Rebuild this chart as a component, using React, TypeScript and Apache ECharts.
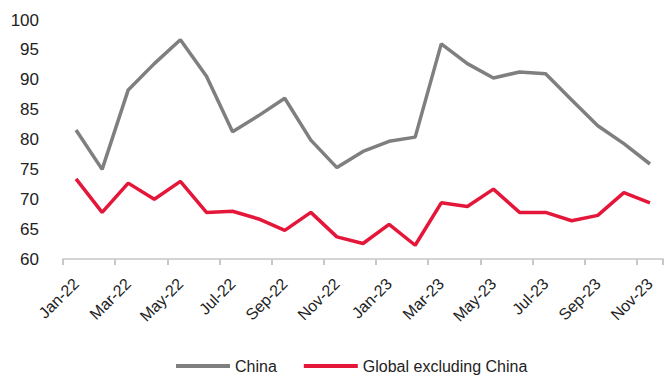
import React, { useEffect, useRef } from "react";
import * as echarts from "echarts";

// Monthly readings, Jan-22 to Nov-23
const months = [
  "Jan-22", "Feb-22", "Mar-22", "Apr-22", "May-22", "Jun-22", "Jul-22", "Aug-22",
  "Sep-22", "Oct-22", "Nov-22", "Dec-22", "Jan-23", "Feb-23", "Mar-23", "Apr-23",
  "May-23", "Jun-23", "Jul-23", "Aug-23", "Sep-23", "Oct-23", "Nov-23",
];

const china = [
  81.6, 75.0, 88.3, 92.7, 96.7, 90.6, 81.3, 84.0, 86.9, 79.9, 75.3, 78.0,
  79.7, 80.4, 96.0, 92.7, 90.3, 91.3, 91.0, 86.6, 82.3, 79.3, 75.9,
];

const globalExChina = [
  73.4, 67.8, 72.7, 70.0, 73.0, 67.8, 68.0, 66.7, 64.8, 67.8, 63.7, 62.6,
  65.8, 62.3, 69.4, 68.8, 71.7, 67.8, 67.8, 66.4, 67.3, 71.1, 69.4,
];

const FONT = "'Liberation Sans', Arial, sans-serif";

export default function App() {
  const ref = useRef<HTMLDivElement>(null);

  useEffect(() => {
    if (!ref.current) return;
    const chart = echarts.init(ref.current, undefined, { renderer: "svg" });
    chart.setOption({
      animation: false,
      backgroundColor: "#ffffff",
      grid: { left: 63, right: 2, top: 20, bottom: 117, containLabel: false },
      legend: {
        left: 171,
        top: 353,
        itemWidth: 54,
        itemHeight: 4,
        itemGap: 27,
        icon: "rect",
        textStyle: { fontFamily: FONT, fontSize: 16, color: "#222222" },
        data: ["China", "Global excluding China"],
      },
      xAxis: {
        type: "category",
        data: months,
        boundaryGap: true,
        axisLine: { show: true, lineStyle: { color: "#d4d4d4", width: 2 } },
        axisTick: {
          show: true,
          interval: 1,
          inside: false,
          length: 6,
          lineStyle: { color: "#c8c8c8", width: 2 },
        },
        axisLabel: {
          interval: 1,
          rotate: 45,
          margin: 22,
          fontFamily: FONT,
          fontSize: 16,
          color: "#222222",
        },
      },
      yAxis: {
        type: "value",
        min: 60,
        max: 100,
        interval: 5,
        axisLine: { show: false },
        axisTick: { show: false },
        splitLine: { show: false },
        axisLabel: {
          margin: 24,
          fontFamily: FONT,
          fontSize: 17,
          color: "#222222",
        },
      },
      series: [
        {
          name: "China",
          type: "line",
          data: china,
          symbol: "none",
          color: "#7f7f7f",
          lineStyle: { color: "#7f7f7f", width: 3.5 },
        },
        {
          name: "Global excluding China",
          type: "line",
          data: globalExChina,
          symbol: "none",
          color: "#e4173a",
          lineStyle: { color: "#e4173a", width: 3.5 },
        },
      ],
    });
    return () => chart.dispose();
  }, []);

  return (
    <div
      ref={ref}
      style={{ width: 665, height: 376, position: "absolute", left: 0, top: 0 }}
    />
  );
}
